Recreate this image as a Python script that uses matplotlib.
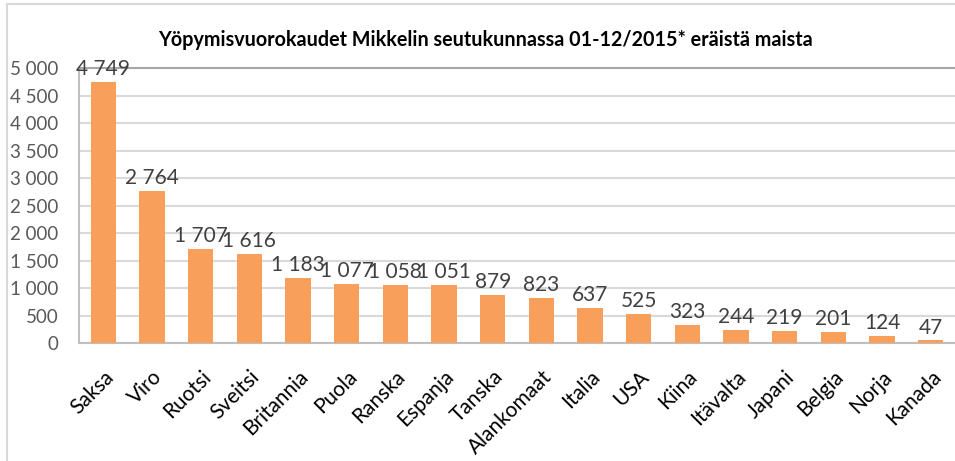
import matplotlib.pyplot as plt
from matplotlib.patches import Rectangle
from matplotlib.ticker import FuncFormatter

countries = ['Saksa', 'Viro', 'Ruotsi', 'Sveitsi', 'Britannia', 'Puola', 'Ranska',
             'Espanja', 'Tanska', 'Alankomaat', 'Italia', 'USA', 'Kiina', 'Itävalta',
             'Japani', 'Belgia', 'Norja', 'Kanada']
nights = [4749, 2764, 1707, 1616, 1183, 1077, 1058, 1051, 879, 823, 637, 525,
          323, 244, 219, 201, 124, 47]

title = 'Yöpymisvuorokaudet Mikkelin seutukunnassa 01-12/2015* eräistä maista'

plt.rcParams['font.family'] = ['Lato', 'DejaVu Sans']


def fi_num(v, pos=None):
    # finnish style thousands separator
    return f'{int(v):,}'.replace(',', ' ')


fig = plt.figure(figsize=(9.55, 4.61), dpi=100)
ax = fig.add_axes([79 / 955, 1 - 343 / 461, 1 - 79 / 955, 275 / 461])

# chart border (goes off the picture right and bottom)
fig.patches.append(Rectangle((7 / 955, -0.2), 1.2, 1 - 4 / 461 + 0.2,
                             transform=fig.transFigure, fill=False,
                             edgecolor='#d9d9d9', linewidth=1.5))

bars = ax.bar(range(len(countries)), nights, width=0.52, color='#F79F5B', zorder=3)
ax.bar_label(bars, labels=[fi_num(v) for v in nights], padding=2,
             fontsize=15, color='#404040', zorder=4)

ax.set_ylim(0, 5000)
ax.set_xlim(-0.5, len(countries) - 0.5)
ax.set_yticks(range(0, 5001, 500))
ax.yaxis.set_major_formatter(FuncFormatter(fi_num))
ax.tick_params(axis='y', length=0, labelsize=13.5, labelcolor='#595959', pad=15)
ax.set_xticks(range(len(countries)))
ax.set_xticklabels(countries, rotation=45, ha='right', rotation_mode='anchor',
                   fontsize=15, color='black')
ax.tick_params(axis='x', length=0, pad=17)

ax.grid(axis='y', color='#d9d9d9', linewidth=1.5, zorder=0)
for side in ['left', 'bottom', 'top']:
    ax.spines[side].set_color('#bfbfbf')
    ax.spines[side].set_linewidth(1.5)
ax.spines['top'].set_color('#a6a6a6')
ax.spines['right'].set_visible(False)

fig.text(485 / 955, 1 - 40 / 461, title, ha='center', va='center',
         fontsize=14.2, fontweight='bold')

plt.savefig('out.png', dpi=100)
